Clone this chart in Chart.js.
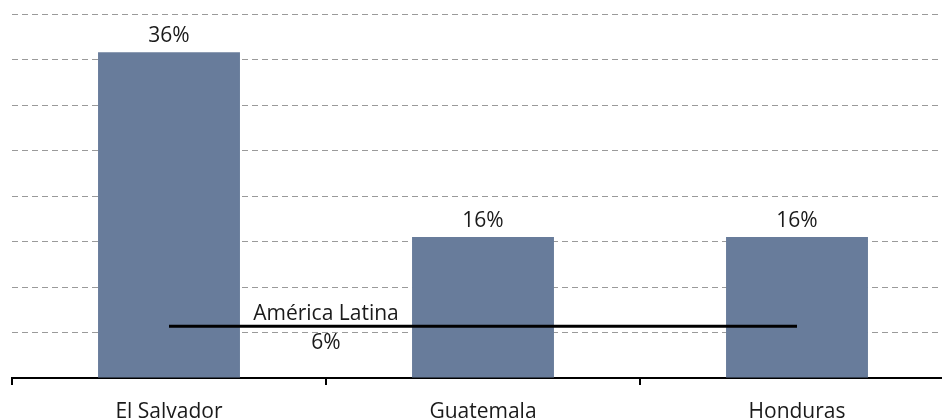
<!DOCTYPE html>
<html>
<head>
<meta charset="utf-8">
<script src="https://cdn.jsdelivr.net/npm/chart.js@4"></script>
<style>
  html, body { margin: 0; padding: 0; background: #fff; overflow: hidden; }
  #wrap { width: 954px; height: 419px; overflow: hidden; }
</style>
</head>
<body>
<div id="wrap"><canvas id="chart" width="954" height="440"></canvas></div>
<script>
// Chart data
const countries = ['El Salvador', 'Guatemala', 'Honduras'];
const shareValues = [35.8, 15.5, 15.5];
const latamValues = [5.7, 5.7, 5.7];
const latamLabel = 'América Latina';

const FONT = '"Open Sans", "Noto Sans", sans-serif';

// Percent labels above the bars + the América Latina caption
const labelsPlugin = {
  id: 'labels',
  afterDatasetsDraw(chart) {
    const ctx = chart.ctx;
    const x = chart.scales.x, y = chart.scales.y;
    ctx.save();
    ctx.fillStyle = '#1a1a1a';
    ctx.font = '21px ' + FONT;
    ctx.textAlign = 'center';
    ctx.textBaseline = 'alphabetic';

    // bar values
    chart.getDatasetMeta(1).data.forEach((bar, i) => {
      ctx.fillText(Math.round(shareValues[i]) + '%', bar.x, bar.y - 10);
    });

    // average line caption, centred on the first category boundary
    const cx = (x.getPixelForValue(0) + x.getPixelForValue(1)) / 2;
    const ly = y.getPixelForValue(latamValues[0]);
    ctx.fillText(latamLabel, cx, ly - 6);
    ctx.fillText(Math.round(latamValues[0]) + '%', cx, ly + 23);
    ctx.restore();
  }
};

new Chart(document.getElementById('chart'), {
  data: {
    labels: countries,
    datasets: [
      {
        type: 'line',
        data: latamValues,
        borderColor: '#000',
        borderWidth: 3,
        pointRadius: 0,
        order: 0
      },
      {
        type: 'bar',
        data: shareValues,
        backgroundColor: '#687c9b',
        categoryPercentage: 1,
        barPercentage: 0.452,
        order: 1
      }
    ]
  },
  options: {
    responsive: false,
    animation: false,
    layout: { padding: { left: 12, top: 14, right: 0, bottom: 0 } },
    plugins: {
      legend: { display: false },
      tooltip: { enabled: false }
    },
    scales: {
      x: {
        grid: {
          display: true,
          offset: true,
          drawOnChartArea: false,
          drawTicks: true,
          tickLength: 7,
          color: '#000',
          lineWidth: 2
        },
        border: { display: true, color: '#000', width: 2 },
        ticks: {
          color: '#1a1a1a',
          font: { family: FONT, size: 21, lineHeight: 1 },
          padding: 17
        }
      },
      y: {
        min: 0,
        max: 40,
        ticks: { display: false, stepSize: 5 },
        border: { display: false, dash: [6, 4] },
        grid: {
          drawTicks: false,
          color: (c) => c.tick.value === 0 ? 'rgba(0,0,0,0)' : '#9a9a9a',
          lineWidth: 1
        }
      }
    }
  },
  plugins: [labelsPlugin]
});
</script>
</body>
</html>
